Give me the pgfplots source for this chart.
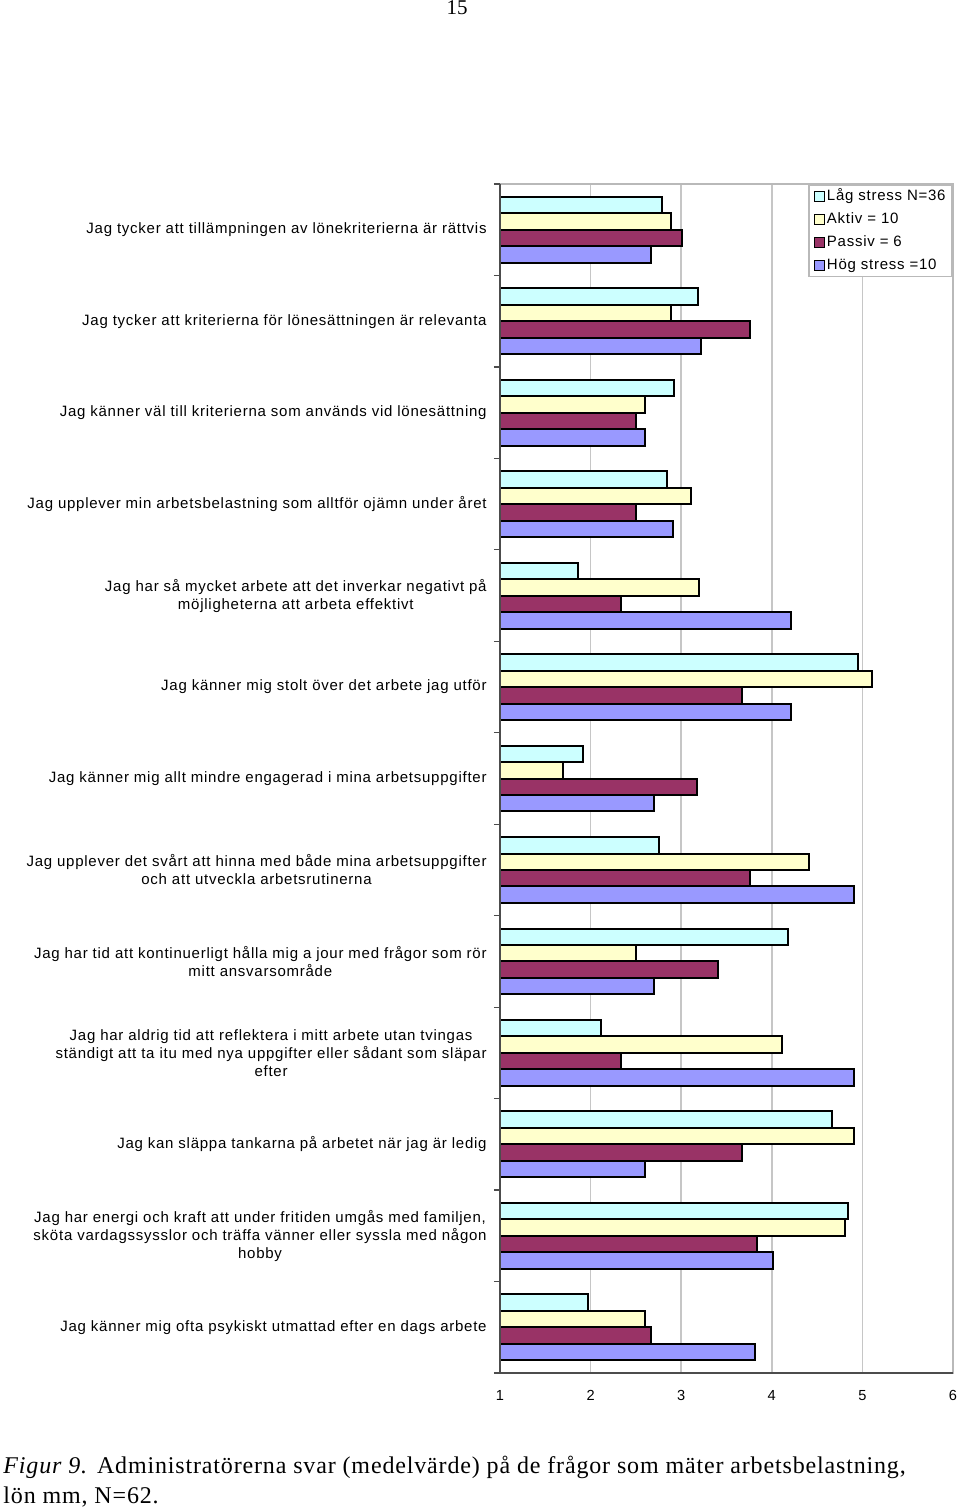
\documentclass[border=0pt]{standalone}
\usepackage{fontspec}
\setmainfont{Liberation Serif}
\newfontfamily\lab[LetterSpace=5]{Liberation Sans}
\newfontfamily\arial{Liberation Sans}
\newfontfamily\capfont[LetterSpace=3.5]{Liberation Serif}
\usepackage{pgfplots}
\pgfplotsset{compat=1.18}
\definecolor{lag}{HTML}{CCFFFF}
\definecolor{akt}{HTML}{FFFFCC}
\definecolor{pas}{HTML}{993366}
\definecolor{hog}{HTML}{9999FF}
\begin{document}
\begin{tikzpicture}
\path[use as bounding box] (0,0) rectangle (480pt,-755pt);
\node[font=\fontsize{10.5pt}{12pt}\selectfont] at (228.5pt,-4pt) {15};
\begin{axis}[
  at={(250pt,-92pt)}, anchor=north west,
  width=226.5pt, height=594.5pt, scale only axis,
  xmin=1, xmax=6, ymin=0.5, ymax=13.5,
  xtick={1,...,6},
  ytick={1,...,13},
  tick pos=left,
  yticklabels={
    {Jag känner mig ofta psykiskt utmattad efter en dags arbete},
    {Jag har energi och kraft att under fritiden umgås med familjen,\\sköta vardagssysslor och träffa vänner eller syssla med någon\\hobby},
    {Jag kan släppa tankarna på arbetet när jag är ledig},
    {Jag har aldrig tid att reflektera i mitt arbete utan tvingas\\ständigt att ta itu med nya uppgifter eller sådant som släpar\\efter},
    {Jag har tid att kontinuerligt hålla mig a jour med frågor som rör\\mitt ansvarsområde},
    {Jag upplever det svårt att hinna med både mina arbetsuppgifter\\och att utveckla arbetsrutinerna},
    {Jag känner mig allt mindre engagerad i mina arbetsuppgifter},
    {Jag känner mig stolt över det arbete jag utför},
    {Jag har så mycket arbete att det inverkar negativt på\\möjligheterna att arbeta effektivt},
    {Jag upplever min arbetsbelastning som alltför ojämn under året},
    {Jag känner väl till kriterierna som används vid lönesättning},
    {Jag tycker att kriterierna för lönesättningen är relevanta},
    {Jag tycker att tillämpningen av lönekriterierna är rättvis}
  },
  y tick label style={font=\lab\fontsize{7.5pt}{9pt}\selectfont, align=center, inner sep=0pt, xshift=-6.5pt},
  x tick label style={font=\arial\fontsize{7.3pt}{8pt}\selectfont, inner sep=0pt, yshift=-8.5pt},
  /pgf/number format/assume math mode=true,
  major tick length=0pt,
  extra y ticks={0.5,1.5,...,13.5}, extra y tick labels={},
  extra y tick style={major tick length=3pt, tick align=outside, tick style={gray!60!black, line width=0.6pt}},
  xmajorgrids, grid style={gray!45, line width=0.8pt},
  axis line style={gray!55, line width=0.8pt},
  xbar, bar width=0.18,
  every axis plot/.append style={draw=black, line width=1pt},
  legend style={at={(rel axis cs:1,1)}, anchor=north east, draw=gray!55, line width=0.8pt,
    font=\lab\fontsize{7.5pt}{9pt}\selectfont, inner xsep=2.5pt, inner ysep=1pt, row sep=2.1pt,
    nodes={inner sep=0.8pt, text height=6pt, text depth=1.8pt}},
  legend cell align=left,
  legend image code/.code={\draw[#1, draw=black, line width=0.6pt] (0pt,-2.5pt) rectangle (5pt,2.5pt);},
  after end axis/.code={
    \draw[gray!60!black, line width=0.8pt] (axis cs:1,13.5) -- (axis cs:1,0.5) -- (axis cs:6,0.5);
  }
]
\addplot[fill=lag, bar shift=0.27] coordinates {(2.79,13) (3.19,12) (2.92,11) (2.84,10) (1.86,9) (4.95,8) (1.92,7) (2.75,6) (4.18,5) (2.11,4) (4.67,3) (4.84,2) (1.97,1)};
\addplot[fill=akt, bar shift=0.09] coordinates {(2.89,13) (2.89,12) (2.60,11) (3.11,10) (3.20,9) (5.11,8) (1.70,7) (4.41,6) (2.50,5) (4.11,4) (4.91,3) (4.81,2) (2.60,1)};
\addplot[fill=pas, bar shift=-0.09] coordinates {(3.01,13) (3.76,12) (2.50,11) (2.50,10) (2.34,9) (3.67,8) (3.17,7) (3.76,6) (3.41,5) (2.34,4) (3.67,3) (3.84,2) (2.67,1)};
\addplot[fill=hog, bar shift=-0.27] coordinates {(2.67,13) (3.22,12) (2.60,11) (2.91,10) (4.21,9) (4.21,8) (2.70,7) (4.91,6) (2.70,5) (4.91,4) (2.60,3) (4.01,2) (3.81,1)};
\legend{Låg stress N=36, Aktiv = 10, Passiv = 6, Hög stress =10}
\end{axis}
\node[anchor=base west, font=\capfont\fontsize{12pt}{15pt}\selectfont, inner sep=0pt] at (1.5pt,-736.5pt) {\textit{Figur 9.} Administratörerna svar (medelvärde) på de frågor som mäter arbetsbelastning,};
\node[anchor=base west, font=\capfont\fontsize{12pt}{15pt}\selectfont, inner sep=0pt] at (1.5pt,-751.5pt) {lön mm, N=62.};
\end{tikzpicture}
\end{document}
